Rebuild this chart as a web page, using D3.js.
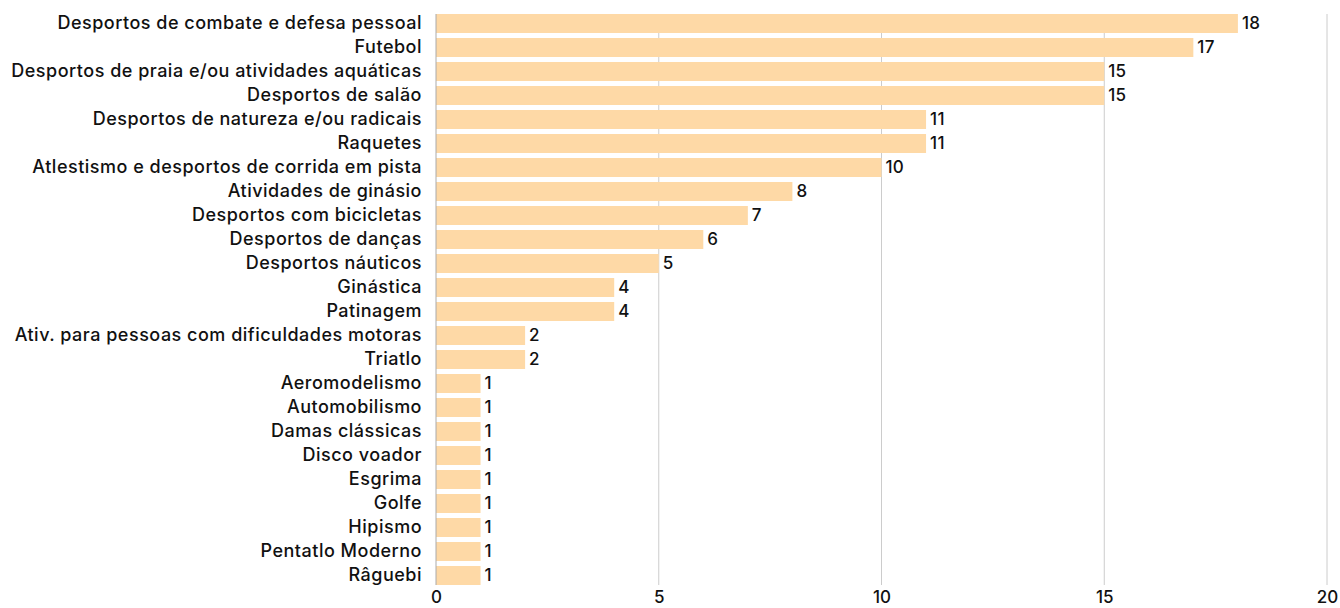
<!DOCTYPE html>
<html><head><meta charset="utf-8">
<script src="https://cdn.jsdelivr.net/npm/d3@7"></script>
<style>body{margin:0;background:#fff;} text{font-family:Inter,"Open Sans",sans-serif;font-weight:500;}</style>
</head><body>
<svg id="c" width="1340" height="608"></svg>
<script>
const categories = ["Desportos de combate e defesa pessoal","Futebol","Desportos de praia e/ou atividades aquáticas","Desportos de salão","Desportos de natureza e/ou radicais","Raquetes","Atlestismo e desportos de corrida em pista","Atividades de ginásio","Desportos com bicicletas","Desportos de danças","Desportos náuticos","Ginástica","Patinagem","Ativ. para pessoas com dificuldades motoras","Triatlo","Aeromodelismo","Automobilismo","Damas clássicas","Disco voador","Esgrima","Golfe","Hipismo","Pentatlo Moderno","Râguebi"];
const values = [18,17,15,15,11,11,10,8,7,6,5,4,4,2,2,1,1,1,1,1,1,1,1,1];
const xTicks = [0,5,10,15,20];

const svg = d3.select("#c");
const x = d3.scaleLinear().domain([0,20]).range([436,1327]);
const y = d3.scaleBand().domain(categories).range([11.5,587.5]).paddingInner(5/24).paddingOuter(5/48);

const gTop = y(categories[0]), gBot = y(categories[categories.length-1]) + y.bandwidth();
// gridlines
svg.append("g").selectAll("line").data(xTicks.slice(1)).join("line")
  .attr("x1",d=>x(d)).attr("x2",d=>x(d)).attr("y1",gTop).attr("y2",gBot)
  .attr("stroke","#cccccc").attr("stroke-width",1);

// bars
svg.append("g").selectAll("rect").data(categories).join("rect")
  .attr("x",x(0)).attr("y",d=>y(d)).attr("height",y.bandwidth())
  .attr("width",(d,i)=>x(values[i])-x(0)).attr("fill","#fed9a6");

// zero line
svg.append("line").attr("x1",x(0)).attr("x2",x(0)).attr("y1",gTop).attr("y2",gBot)
  .attr("stroke","#aaaaaa").attr("stroke-width",1);

// category labels
svg.append("g").selectAll("text").data(categories).join("text")
  .attr("x",422).attr("y",d=>y(d)+y.bandwidth()/2).attr("dy","0.32em")
  .attr("text-anchor","end").attr("font-size",18).attr("letter-spacing","0.5px").attr("fill","#111")
  .text(d=>d);

// value labels
svg.append("g").selectAll("text").data(categories).join("text")
  .attr("x",(d,i)=>x(values[i])+4).attr("y",d=>y(d)+y.bandwidth()/2).attr("dy","0.35em")
  .attr("font-size",17).attr("letter-spacing","0.3px").attr("fill","#111")
  .text((d,i)=>values[i]);

// x axis labels
const ax = svg.append("g").attr("transform","translate(0,"+(gBot+6)+")")
  .call(d3.axisBottom(x).tickValues(xTicks).tickSize(0).tickPadding(0));
ax.select(".domain").remove();
ax.selectAll("text").attr("font-size",17).attr("fill","#111").style("font-family","Inter,'Open Sans',sans-serif").style("font-weight","500");
</script>
</body></html>
